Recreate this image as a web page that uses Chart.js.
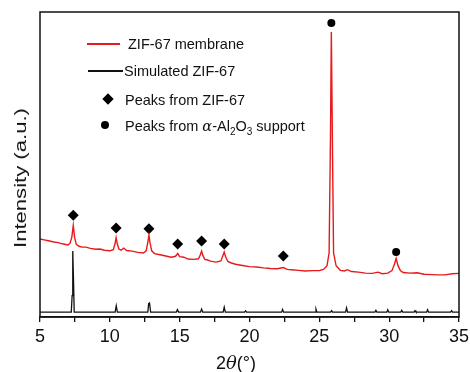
<!DOCTYPE html>
<html>
<head>
<meta charset="utf-8">
<script src="https://cdn.jsdelivr.net/npm/chart.js@4.4.1/dist/chart.umd.min.js"></script>
<style>
  html, body { margin: 0; padding: 0; background: #fff; }
  #wrap { position: relative; width: 470px; height: 372px; font-family: "Liberation Sans", Arial, sans-serif; }
  #xrd { position: absolute; left: 0; top: 0; }
  .lg { position: absolute; font-size: 14.5px; color: #111; white-space: nowrap; line-height: 1; }
  .seg { position: absolute; height: 1.5px; }
  .dia { position: absolute; width: 8px; height: 8px; background: #000; transform: rotate(45deg); }
  .dot { position: absolute; width: 8px; height: 8px; background: #000; border-radius: 50%; }
  #ytitle { position: absolute; left: 21px; top: 178px; font-size: 16px; color: #111; white-space: nowrap;
            transform: translate(-50%, -50%) rotate(-90deg) scaleX(1.38); }
  #xtitle { position: absolute; left: 236px; top: 363px; font-size: 18px; color: #111; white-space: nowrap;
            transform: translate(-50%, -50%); }
</style>
</head>
<body>
<div id="wrap">
  <canvas id="xrd" width="470" height="372"></canvas>
  <div class="seg" style="left:87px;top:43px;width:33px;background:#e8191b;"></div>
  <div class="lg" style="left:128px;top:37px;">ZIF-67 membrane</div>
  <div class="seg" style="left:88px;top:70px;width:35px;background:#111;"></div>
  <div class="lg" style="left:124px;top:64px;">Simulated ZIF-67</div>
  <div class="dia" style="left:104px;top:95px;"></div>
  <div class="lg" style="left:125px;top:93px;">Peaks from ZIF-67</div>
  <div class="dot" style="left:101px;top:121px;"></div>
  <div class="lg" style="left:125px;top:119px;">Peaks from <i style="font-family:'DejaVu Serif',serif;">α</i>-Al<sub style="font-size:10px;">2</sub>O<sub style="font-size:10px;">3</sub> support</div>
  <div id="ytitle">Intensity (a.u.)</div>
  <div id="xtitle">2<i style="font-family:'DejaVu Serif',serif;">θ</i>(°)</div>
</div>
<script>
// ZIF-67 membrane pattern (2theta, intensity)
const memX = [5.0, 5.3, 5.6, 6.0, 6.3, 6.6, 7.0, 7.15, 7.28, 7.38, 7.48, 7.6, 7.8, 8.0, 8.3, 8.6, 9.0, 9.3, 9.6, 10.0, 10.25, 10.37, 10.45, 10.53, 10.65, 10.8, 11.0, 11.2, 11.6, 12.0, 12.4, 12.6, 12.72, 12.8, 12.88, 13.0, 13.2, 13.6, 14.0, 14.4, 14.7, 14.86, 15.0, 15.3, 15.6, 16.0, 16.35, 16.48, 16.57, 16.66, 16.8, 17.0, 17.2, 17.6, 17.95, 18.1, 18.19, 18.28, 18.45, 18.7, 19.0, 19.5, 20.0, 20.5, 21.0, 21.5, 22.0, 22.42, 22.7, 23.0, 23.5, 24.0, 24.5, 25.0, 25.3, 25.55, 25.7, 25.8, 25.86, 25.93, 26.02, 26.2, 26.5, 26.8, 27.0, 27.3, 27.8, 28.3, 28.8, 29.2, 29.5, 29.9, 30.2, 30.38, 30.5, 30.62, 30.8, 31.0, 31.5, 32.0, 32.5, 33.0, 33.5, 34.0, 34.5, 35.0];
const memY = [25.6, 25.3, 25.0, 24.6, 24.4, 24.0, 23.6, 24.2, 26.2, 30.0, 26.0, 23.8, 23.2, 22.9, 22.9, 22.5, 22.2, 22.3, 21.9, 21.7, 22.1, 24.0, 26.0, 24.0, 22.3, 21.9, 22.6, 21.8, 21.6, 21.2, 21.0, 21.7, 24.5, 26.8, 24.2, 21.7, 20.8, 20.4, 20.0, 19.6, 19.9, 20.8, 19.8, 19.6, 19.0, 18.9, 19.1, 20.4, 21.6, 20.2, 18.9, 18.7, 18.3, 18.0, 18.4, 20.2, 21.3, 19.8, 18.2, 17.7, 17.3, 16.9, 16.5, 16.4, 16.1, 15.9, 15.8, 16.2, 15.6, 15.5, 15.3, 15.1, 15.2, 15.2, 15.6, 16.8, 21.0, 60.0, 93.4, 60.0, 21.0, 16.8, 15.3, 15.1, 15.5, 14.9, 14.7, 14.4, 14.3, 14.7, 14.2, 14.4, 15.2, 17.4, 19.2, 17.0, 15.2, 14.6, 14.4, 14.5, 14.0, 13.9, 13.8, 13.8, 14.2, 14.3];

// Simulated ZIF-67 pattern
const simX = [5.0, 7.24, 7.3, 7.33, 7.36, 7.4, 7.45, 10.38, 10.46, 10.54, 12.72, 12.78, 12.84, 12.92, 14.76, 14.84, 14.92, 16.49, 16.57, 16.65, 18.11, 18.19, 18.27, 19.65, 19.72, 19.79, 22.3, 22.37, 22.44, 24.69, 24.76, 24.83, 25.81, 25.88, 25.95, 26.88, 26.95, 27.02, 28.98, 29.05, 29.12, 29.83, 29.9, 29.97, 30.83, 30.9, 30.97, 31.78, 31.85, 31.92, 32.68, 32.75, 32.82, 34.4, 34.47, 34.54, 35.0];
const simY = [1.6, 1.6, 7.0, 15.0, 21.6, 12.0, 1.6, 1.6, 3.7, 1.6, 1.6, 4.4, 4.6, 1.6, 1.6, 2.4, 1.6, 1.6, 2.6, 1.6, 1.6, 3.2, 1.6, 1.6, 2.0, 1.6, 1.6, 2.5, 1.6, 1.6, 2.6, 1.6, 1.6, 2.1, 1.6, 1.6, 3.0, 1.6, 1.6, 2.2, 1.6, 1.6, 2.4, 1.6, 1.6, 2.2, 1.6, 1.6, 2.1, 1.6, 1.6, 2.4, 1.6, 1.6, 2.1, 1.6, 1.6];

// peak markers
const diamondX = [7.38, 10.45, 12.8, 14.86, 16.57, 18.19, 22.42];
const diamondY = [33.4, 29.2, 28.9, 23.9, 24.9, 23.9, 20.0];
const circleX = [25.86, 30.5];
const circleY = [96.4, 21.3];

const xTicks = [5, 10, 15, 20, 25, 30, 35];

const pts = (xs, ys) => xs.map((x, i) => ({ x: x, y: ys[i] }));

// frame around the plot area
const framePlugin = {
    id: 'frame',
    afterDraw(chart) {
        const a = chart.chartArea;
        const ctx = chart.ctx;
        ctx.save();
        ctx.strokeStyle = '#111';
        ctx.lineWidth = 1.5;
        ctx.strokeRect(a.left, a.top, a.right - a.left, a.bottom - a.top);
        ctx.restore();
    }
};

new Chart(document.getElementById('xrd'), {
    type: 'line',
    data: {
        datasets: [
            {
                data: pts(memX, memY),
                borderColor: '#e8191b',
                borderWidth: 1.4,
                pointRadius: 0,
                tension: 0
            },
            {
                data: pts(simX, simY),
                borderColor: '#111',
                borderWidth: 1.3,
                pointRadius: 0,
                tension: 0
            },
            {
                data: pts(diamondX, diamondY),
                showLine: false,
                pointStyle: 'rectRot',
                pointRadius: 5.5,
                pointBackgroundColor: '#000',
                pointBorderColor: '#000',
                pointBorderWidth: 0
            },
            {
                data: pts(circleX, circleY),
                showLine: false,
                pointStyle: 'circle',
                pointRadius: 4,
                pointBackgroundColor: '#000',
                pointBorderColor: '#000',
                pointBorderWidth: 0
            }
        ]
    },
    options: {
        responsive: false,
        animation: false,
        layout: { padding: { left: 40, right: 11, top: 12, bottom: 0 } },
        plugins: { legend: { display: false }, tooltip: { enabled: false } },
        scales: {
            x: {
                type: 'linear',
                min: 5,
                max: 35,
                afterFit(scale) {
                    scale.height = 55;
                    scale.paddingLeft = 0;
                    scale.paddingRight = 0;
                },
                ticks: {
                    stepSize: 2.5,
                    autoSkip: false,
                    maxRotation: 0,
                    padding: 4,
                    color: '#111',
                    font: { family: "'Liberation Sans', Arial, sans-serif", size: 18 },
                    callback: (v) => xTicks.includes(v) ? String(v) : ''
                },
                grid: { drawOnChartArea: false, tickLength: 5, color: '#111', lineWidth: 1.3 },
                border: { color: '#111', width: 1.5 }
            },
            y: {
                display: false,
                min: 0,
                max: 100
            }
        }
    },
    plugins: [framePlugin]
});
</script>
</body>
</html>
